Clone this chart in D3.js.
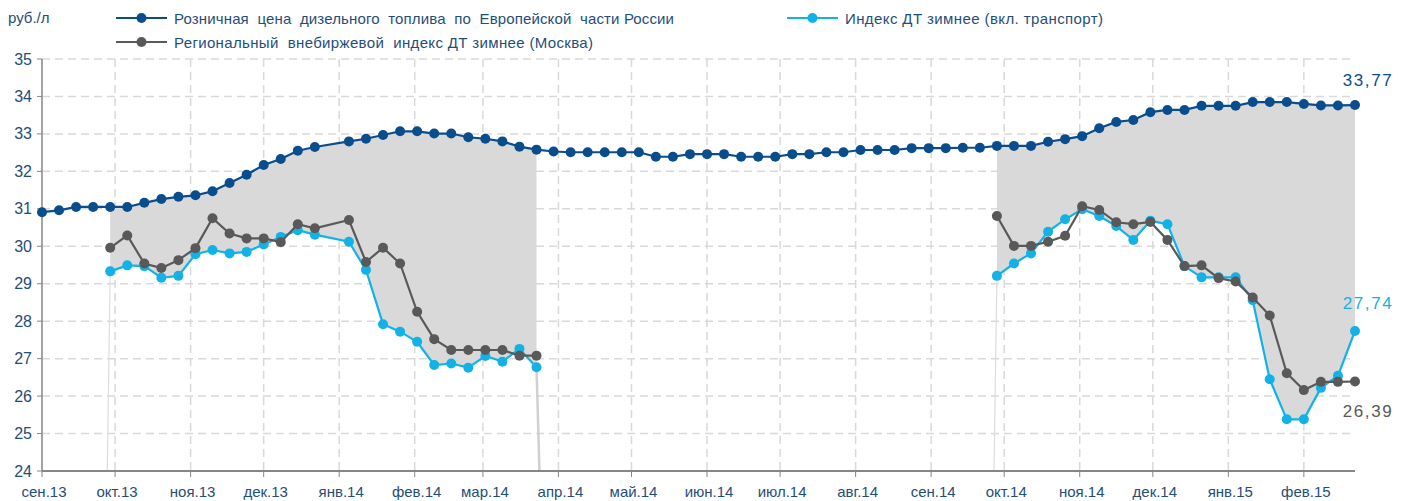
<!DOCTYPE html>
<html>
<head>
<meta charset="utf-8">
<script src="https://cdn.jsdelivr.net/npm/d3@7"></script>
<style>
  body { margin: 0; background: #fff; }
  svg { display: block; font-family: "Liberation Sans", Arial, sans-serif; }
</style>
</head>
<body>
<div id="chart"></div>
<script>
// недельные даты (пропуск 2013-12-29)
const dates = [
  "2013-09-01","2013-09-08","2013-09-15","2013-09-22","2013-09-29","2013-10-06","2013-10-13","2013-10-20",
  "2013-10-27","2013-11-03","2013-11-10","2013-11-17","2013-11-24","2013-12-01","2013-12-08","2013-12-15",
  "2013-12-22","2014-01-05","2014-01-12","2014-01-19","2014-01-26","2014-02-02","2014-02-09","2014-02-16",
  "2014-02-23","2014-03-02","2014-03-09","2014-03-16","2014-03-23","2014-03-30","2014-04-06","2014-04-13",
  "2014-04-20","2014-04-27","2014-05-04","2014-05-11","2014-05-18","2014-05-25","2014-06-01","2014-06-08",
  "2014-06-15","2014-06-22","2014-06-29","2014-07-06","2014-07-13","2014-07-20","2014-07-27","2014-08-03",
  "2014-08-10","2014-08-17","2014-08-24","2014-08-31","2014-09-07","2014-09-14","2014-09-21","2014-09-28",
  "2014-10-05","2014-10-12","2014-10-19","2014-10-26","2014-11-02","2014-11-09","2014-11-16","2014-11-23",
  "2014-11-30","2014-12-07","2014-12-14","2014-12-21","2014-12-28","2015-01-04","2015-01-11","2015-01-18",
  "2015-01-25","2015-02-01","2015-02-08","2015-02-15","2015-02-22"
];

// Розничная цена ДТ по Европейской части России
const retail = [
  30.91,30.96,31.05,31.05,31.05,31.05,31.16,31.26,31.32,31.36,31.47,31.69,31.91,32.17,32.33,32.55,
  32.65,32.80,32.87,32.97,33.07,33.07,33.01,33.01,32.91,32.87,32.80,32.66,32.58,32.53,32.51,32.51,
  32.51,32.51,32.51,32.39,32.39,32.46,32.46,32.46,32.39,32.39,32.39,32.46,32.46,32.51,32.51,32.57,
  32.57,32.57,32.62,32.62,32.62,32.63,32.63,32.68,32.68,32.68,32.79,32.86,32.94,33.15,33.32,33.37,
  33.58,33.64,33.64,33.75,33.75,33.75,33.85,33.85,33.85,33.80,33.76,33.76,33.77
];

// Индекс ДТ зимнее (вкл. транспорт)
const winterIndex = [
  null,null,null,null,
  29.33,29.49,29.47,29.16,29.21,29.79,29.90,29.81,29.85,30.05,30.25,30.43,30.31,
  30.12,29.37,27.92,27.72,27.45,26.83,26.87,26.76,27.07,26.92,27.26,26.77,
  null,null,null,null,null,null,null,null,null,null,null,null,null,
  null,null,null,null,null,null,null,null,null,null,null,null,null,
  29.21,29.54,29.81,30.39,30.72,30.99,30.81,30.54,30.17,30.68,30.59,
  29.47,29.17,29.17,29.17,28.56,26.45,25.38,25.38,26.22,26.54,27.74
];

// Региональный внебиржевой индекс ДТ зимнее (Москва)
const regionalIndex = [
  null,null,null,null,
  29.96,30.29,29.54,29.42,29.63,29.95,30.75,30.34,30.21,30.21,30.11,30.59,30.48,
  30.70,29.58,29.96,29.54,28.25,27.52,27.23,27.23,27.23,27.23,27.08,27.08,
  null,null,null,null,null,null,null,null,null,null,null,null,null,
  null,null,null,null,null,null,null,null,null,null,null,null,null,
  30.81,30.01,30.01,30.12,30.28,31.07,30.97,30.64,30.59,30.65,30.17,
  29.47,29.49,29.15,29.06,28.63,28.15,26.61,26.16,26.38,26.38,26.39
];

const monthLabels = ["сен.13","окт.13","ноя.13","дек.13","янв.14","фев.14","мар.14","апр.14","май.14",
  "июн.14","июл.14","авг.14","сен.14","окт.14","ноя.14","дек.14","янв.15","фев.15"];
const yTicks = [24,25,26,27,28,29,30,31,32,33,34,35];

const legendNames = [
  "Розничная  цена  дизельного  топлива  по  Европейской  части России",
  "Индекс ДТ зимнее (вкл. транспорт)",
  "Региональный  внебиржевой  индекс ДТ зимнее (Москва)"
];

const cBlue = "#0a4d8c", cCyan = "#12b2e6", cGray = "#595959", cText = "#1f4e79";

const W = 1403, H = 501;
const parse = d3.timeParse("%Y-%m-%d");
const dt = dates.map(parse);

const svg = d3.select("#chart").append("svg")
    .attr("width", W)
    .attr("height", H);

const x = d3.scaleTime()
    .domain([dt[0], dt[dt.length - 1]])
    .range([42, 1355]);
const y = d3.scaleLinear()
    .domain([24, 35])
    .range([471, 59]);

const monthTicks = d3.timeMonth.range(dt[0], dt[dt.length - 1]);

// сетка
svg.append("g").selectAll("line")
    .data(yTicks.slice(1))
    .join("line")
    .attr("x1", 42).attr("x2", 1355)
    .attr("y1", d => y(d)).attr("y2", d => y(d))
    .attr("stroke", "#d9d9d9")
    .attr("stroke-width", 1.5)
    .attr("stroke-dasharray", "8,5");

svg.append("g").selectAll("line")
    .data(monthTicks.slice(1))
    .join("line")
    .attr("x1", d => x(d)).attr("x2", d => x(d))
    .attr("y1", y(35)).attr("y2", y(24))
    .attr("stroke", "#d9d9d9")
    .attr("stroke-width", 1.5)
    .attr("stroke-dasharray", "8,5");

// заливка между розницей и индексом
const idx = d3.range(dates.length);
const area = d3.area()
    .defined(i => winterIndex[i] != null)
    .x(i => x(dt[i]))
    .y0(i => y(winterIndex[i]))
    .y1(i => y(retail[i]));

svg.append("path")
    .attr("d", area(idx))
    .attr("fill", "#d9d9d9");

// вертикальные линии на краях периодов
const edges = [];
idx.forEach(i => {
    if (winterIndex[i] == null) return;
    if (i > 0 && winterIndex[i - 1] == null) edges.push({i: i, dir: -1});
    if (i < dates.length - 1 && winterIndex[i + 1] == null) edges.push({i: i, dir: 1});
});
svg.append("g").selectAll("line")
    .data(edges)
    .join("line")
    .attr("x1", d => x(dt[d.i]))
    .attr("y1", d => y(winterIndex[d.i]))
    .attr("x2", d => x(d3.timeDay.offset(dt[d.i], d.dir > 0 ? 1 : -1)) + d.dir * 0.5)
    .attr("y2", y(24))
    .attr("stroke", d => d.dir > 0 ? "#d0d0d0" : "#dcdcdc")
    .attr("stroke-width", d => d.dir > 0 ? 2.5 : 1.2);

// оси
svg.append("line")
    .attr("x1", 42).attr("x2", 42)
    .attr("y1", y(35)).attr("y2", y(24))
    .attr("stroke", "#868686").attr("stroke-width", 1.5);
svg.append("line")
    .attr("x1", 42).attr("x2", 1355)
    .attr("y1", y(24)).attr("y2", y(24))
    .attr("stroke", "#868686").attr("stroke-width", 2);

svg.append("g").selectAll("line")
    .data(yTicks)
    .join("line")
    .attr("x1", 37).attr("x2", 42)
    .attr("y1", d => y(d)).attr("y2", d => y(d))
    .attr("stroke", "#868686");

svg.append("g").selectAll("text")
    .data(yTicks)
    .join("text")
    .attr("x", 32)
    .attr("y", d => y(d) + 5.5)
    .attr("text-anchor", "end")
    .attr("fill", cText)
    .style("font-size", "16px")
    .text(d => d);

svg.append("g").selectAll("line")
    .data(monthTicks)
    .join("line")
    .attr("x1", d => x(d)).attr("x2", d => x(d))
    .attr("y1", y(24)).attr("y2", y(24) + 6)
    .attr("stroke", "#868686");

svg.append("g").selectAll("text")
    .data(monthTicks)
    .join("text")
    .attr("x", d => x(d) + 2)
    .attr("y", 497)
    .attr("text-anchor", "middle")
    .attr("fill", cText)
    .style("font-size", "15px")
    .text((d, i) => monthLabels[i]);

// линии рядов
function drawSeries(values, color) {
    const line = d3.line()
        .defined(i => values[i] != null)
        .x(i => x(dt[i]))
        .y(i => y(values[i]));
    svg.append("path")
        .attr("d", line(idx))
        .attr("fill", "none")
        .attr("stroke", color)
        .attr("stroke-width", 2.2);
    svg.append("g").selectAll("circle")
        .data(idx.filter(i => values[i] != null))
        .join("circle")
        .attr("cx", i => x(dt[i]))
        .attr("cy", i => y(values[i]))
        .attr("r", 5)
        .attr("fill", color);
}
drawSeries(winterIndex, cCyan);
drawSeries(regionalIndex, cGray);
drawSeries(retail, cBlue);

// подписи последних значений
const fmt = v => v.toFixed(2).replace(".", ",");
const last = dates.length - 1;
const endLabels = [
    {v: retail[last], c: cBlue, dy: -19},
    {v: winterIndex[last], c: cCyan, dy: -22},
    {v: regionalIndex[last], c: cGray, dy: 36}
];
svg.append("g").selectAll("text")
    .data(endLabels)
    .join("text")
    .attr("x", 1368)
    .attr("y", d => y(d.v) + d.dy)
    .attr("text-anchor", "middle")
    .attr("fill", d => d.c)
    .style("font-size", "17px")
    .style("letter-spacing", "1.6px")
    .text(d => fmt(d.v));

// легенда
svg.append("text")
    .attr("x", 8).attr("y", 23)
    .attr("fill", cText)
    .style("font-size", "15px")
    .text("руб./л");

const legend = [
    {name: legendNames[0], c: cBlue, lx: 116, ly: 18, tx: 58, tw: 500},
    {name: legendNames[1], c: cCyan, lx: 787, ly: 18, tx: 58, tw: 258},
    {name: legendNames[2], c: cGray, lx: 116, ly: 42, tx: 58, tw: 419}
];
const lg = svg.append("g").selectAll("g")
    .data(legend)
    .join("g")
    .attr("transform", d => `translate(${d.lx},${d.ly})`);
lg.append("line")
    .attr("x1", 0).attr("x2", 51)
    .attr("stroke", d => d.c)
    .attr("stroke-width", 2.2);
lg.append("circle")
    .attr("cx", 25.5).attr("r", 5)
    .attr("fill", d => d.c);
lg.append("text")
    .attr("x", d => d.tx).attr("y", 5.5)
    .attr("fill", cText)
    .style("font-size", "15px")
    .attr("xml:space", "preserve")
    .attr("textLength", d => d.tw)
    .attr("lengthAdjust", "spacing")
    .text(d => d.name);
</script>
</body>
</html>
